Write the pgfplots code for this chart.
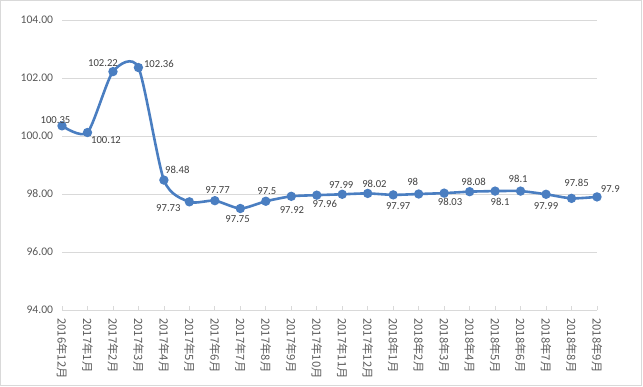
\documentclass[border=0pt]{standalone}
\usepackage{pgfplots}
\pgfplotsset{compat=1.18}
\usepackage{pgfplotstable}
\usepackage{fontspec}
\setmainfont{Carlito}
\newfontfamily\cjk{Noto Sans CJK SC}
\definecolor{lineblue}{RGB}{74,126,193}
\definecolor{gridc}{RGB}{217,217,217}
\definecolor{ticktxt}{RGB}{89,89,89}
\definecolor{labtxt}{RGB}{64,64,64}
\pgfplotstableread{
x y lab dx dy
0 100.35 100.35 -6.5 5.5
1 100.12 100.12 18.5 -7.7
2 102.22 102.22 -10 9
3 102.36 102.36 20.5 4
4 98.48 98.48 13.4 10
5 97.73 97.73 -21 -6
6 97.77 97.77 2.7 10.7
7 97.50 97.75 -2.7 -10.7
8 97.75 97.5 1 10
9 97.92 97.92 0.7 -14
10 97.96 97.96 8 -8.7
11 97.99 97.99 -1 9
12 98.02 98.02 6.7 10
13 97.97 97.97 5 -11.7
14 98.00 98 -6 11.7
15 98.03 98.03 6 -9
16 98.08 98.08 4 9.3
17 98.10 98.1 5 -10.4
18 98.10 98.1 -2.4 12.3
19 97.99 97.99 0 -11.7
20 97.85 97.85 5 15.4
21 97.90 97.9 13.3 7.7
}\data
\begin{document}
\begin{tikzpicture}
\useasboundingbox (0,0) rectangle (643bp,387bp);
\draw[gridc, line width=0.75bp] (0.5bp,1.5bp) rectangle (641bp,386.5bp);
\begin{axis}[
  at={(62bp,77bp)}, anchor=south west,
  scale only axis, width=535bp, height=290bp,
  xmin=0, xmax=21, ymin=94, ymax=104,
  axis x line*=bottom, axis y line*=left,
  x axis line style={-, draw=gridc, line width=0.75bp},
  y axis line style={draw=none},
  ytick={94,96,...,104},
  xtick={0,...,21},
  xticklabels={2016年12月,2017年1月,2017年2月,2017年3月,2017年4月,2017年5月,2017年6月,2017年7月,2017年8月,2017年9月,2017年10月,2017年11月,2017年12月,2018年1月,2018年2月,2018年3月,2018年4月,2018年5月,2018年6月,2018年7月,2018年8月,2018年9月},
  xticklabel style={rotate=-90, anchor=west, inner xsep=8bp, font=\cjk\fontsize{11.4}{13}\selectfont, text=ticktxt},
  yticklabel style={font=\fontsize{11.7}{13}\selectfont, text=ticktxt, inner xsep=0pt, xshift=-8.7bp,
    /pgf/number format/.cd, fixed, fixed zerofill, precision=2, assume math mode=true},
  ymajorgrids, grid style={gridc, line width=0.75bp},
  x tick style={draw=gridc, line width=0.75bp},
  y tick style={draw=none},
  tick align=inside, major tick length=4bp,
  clip=false,
]
\addplot[color=lineblue, line width=2.6bp, smooth, tension=0.42,
  mark=*, mark size=3.3bp, mark options={solid, fill=lineblue, draw=lineblue},
  visualization depends on={\thisrow{dx} \as \dx},
  visualization depends on={\thisrow{dy} \as \dy},
  nodes near coords, point meta=explicit symbolic,
  every node near coord/.append style={anchor=center, xshift=\dx bp, yshift=\dy bp,
    font=\fontsize{10.7}{12}\selectfont, text=labtxt, inner sep=0pt},
] table[x=x, y=y, meta=lab] {\data};
\end{axis}
\end{tikzpicture}
\end{document}
